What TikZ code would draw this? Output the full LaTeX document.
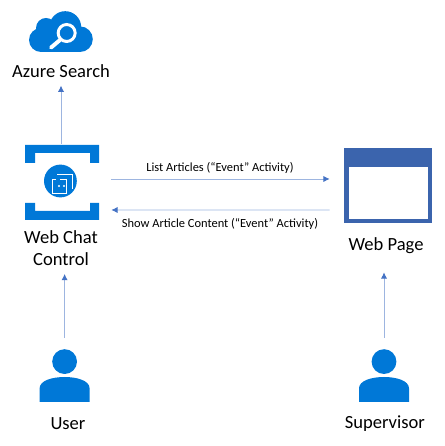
\documentclass[tikz,border=0pt]{standalone}
\usepackage{fontspec}
\setmainfont{Carlito}
\usetikzlibrary{positioning,calc}
\usetikzlibrary{arrows.meta}
\definecolor{iconblue}{HTML}{0078D7}
\definecolor{pageblue}{HTML}{3B64AD}
\definecolor{linelight}{HTML}{9DB5E0}
\definecolor{tipblue}{HTML}{4472C4}
\tikzstyle{etichetta} = [inner sep=0pt, text centered, font=\fontsize{13.2}{15.8}\selectfont]
\tikzstyle{attivita} = [inner sep=0pt, text centered, font=\fontsize{8.85}{10}\selectfont]
\tikzstyle{icona} = [inner sep=0pt, minimum width=1.85cm, minimum height=1.9cm]
\tikzstyle{pagina} = [inner sep=0pt, minimum width=2.18cm, minimum height=1.88cm]
\tikzstyle{utente} = [inner sep=0pt, minimum width=1.25cm, minimum height=1.325cm]
\tikzstyle{arrow} = [line width=0.7pt, linelight, -{Latex[length=4.5pt,width=4.5pt,color=tipblue]}]
\tikzset{
	persona/.pic={
		\fill[iconblue] (0,0.22) circle (0.31);
		\fill[iconblue] (-0.625,-0.79) -- (-0.625,-0.45) .. controls (-0.625,-0.25) and (-0.3,-0.165) .. (0,-0.165) .. controls (0.3,-0.165) and (0.625,-0.25) .. (0.625,-0.45) -- (0.625,-0.79) -- cycle;
	}
}

\begin{document}
\begin{tikzpicture}
	\useasboundingbox (0,0) rectangle (11.1,11.15);
	% cloud
	\fill[iconblue] (1.025,10.15) circle (0.30);
	\fill[iconblue] (1.15,10.45) circle (0.25);
	\fill[iconblue] (1.63,10.47) circle (0.40);
	\fill[iconblue] (2.0,10.17) circle (0.32);
	\fill[iconblue] (1.05,9.85) rectangle (2.0,10.3);
	\draw[white, line width=2.1pt] (1.667,10.325) circle (0.2125);
	\draw[white, line width=2.8pt, line cap=round] (1.5,10.15) -- (1.275,9.96);
	\node (azure) at (1.525,9.37) [etichetta] {Azure Search};
	% web chat
	\node (chat) at (1.525,6.6) [icona] {};
	\fill[iconblue] (0.63,7.075) -- (0.63,7.525) -- (2.48,7.525) -- (2.48,7.075) -- (2.25,7.075) -- (2.25,7.325) -- (0.88,7.325) -- (0.88,7.075) -- cycle;
	\fill[iconblue] (0.63,6.075) -- (0.63,5.65) -- (2.48,5.65) -- (2.48,6.075) -- (2.25,6.075) -- (2.25,5.875) -- (0.88,5.875) -- (0.88,6.075) -- cycle;
	\fill[iconblue] ([xshift=-0.015cm,yshift=0.025cm]chat.center) circle (0.41);
	\draw[white, line width=0.55pt] (1.4,6.675) -- (1.3075,6.675) -- (1.3075,6.3175) -- (1.6675,6.3175) -- (1.6675,6.675) -- (1.5,6.675);
	\draw[white, line width=0.55pt] (1.4325,6.8) -- (1.8075,6.8) -- (1.8075,6.425);
	\fill[white] (1.475,6.5) circle (0.03) (1.6,6.5) circle (0.03);
	\node (chatl) at (1.525,4.95) [etichetta, align=center] {Web Chat\\Control};
	% web page
	\node (page) at (9.7,6.5125) [pagina] {};
	\fill[pageblue] (8.61,5.57) rectangle (10.79,7.45);
	\fill[white] (8.72,5.67) rectangle (10.71,6.97);
	\node (pagel) at (9.65,5.0) [etichetta] {Web Page};
	% persone
	\node (userico) at (1.615,1.765) [utente] {};
	\node (supico) at (9.6,1.765) [utente] {};
	\pic at (1.615,1.89) {persona};
	\pic at (9.6,1.89) {persona};
	\node (user) at (1.7,0.55) [etichetta] {User};
	\node (sup) at (9.62,0.55) [etichetta] {Supervisor};
	% frecce
	\draw[arrow, shorten >=0.19cm] (chat.north) -- (chat.north |- azure.south);
	\draw[arrow] ([shift={(0.325,0.075)}]chat.east) -- ([shift={(-0.36,0.1625)}]page.west);
	\draw[arrow] ([shift={(-0.36,-0.6125)}]page.west) -- ([shift={(0.325,-0.7)}]chat.east);
	\draw[arrow, shorten <=0.275cm, shorten >=0.2cm] (userico.north) -- (userico.north |- chatl.south);
	\draw[arrow, shorten <=0.275cm, shorten >=0.45cm] (supico.north) -- (supico.north |- pagel.south);
	\node (lista) at (5.5,6.95) [attivita] {List Articles (“Event” Activity)};
	\node (mostra) at (5.5,5.56) [attivita] {Show Article Content (“Event” Activity)};
\end{tikzpicture}
\end{document}
